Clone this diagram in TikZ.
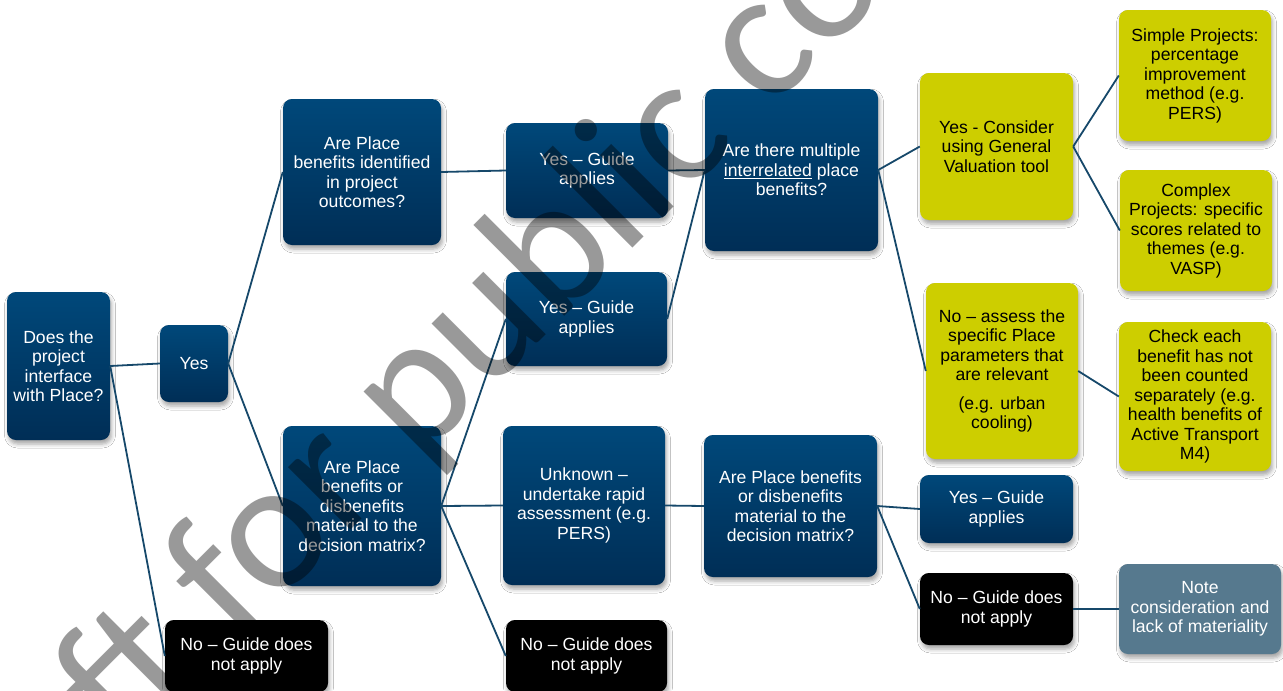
\documentclass[tikz,border=0pt]{standalone}
\usepackage{fontspec}
\setmainfont{Liberation Sans}
\newfontfamily\wmfont{Carlito}
\usetikzlibrary{shadows.blur}
\definecolor{dtop}{RGB}{0,72,122}
\definecolor{dbot}{RGB}{0,46,86}
\definecolor{yel}{RGB}{205,206,0}
\definecolor{gbl}{RGB}{86,121,142}
\definecolor{lnk}{RGB}{22,72,106}
\newcommand{\boxfont}{\fontsize{17.6}{19.5}\selectfont}
\begin{document}
\begin{tikzpicture}[x=1pt,y=-1pt,
  base/.style={rounded corners=9pt, align=center, inner sep=0pt, font=\boxfont,
    blur shadow={shadow xshift=1.5pt, shadow yshift=-4pt, shadow blur radius=4pt, shadow opacity=35}},
  qbox/.style={base, top color=dtop, bottom color=dbot, text=white},
  ybox/.style={base, fill=yel, text=black},
  kbox/.style={base, fill=black, text=white},
  gbox/.style={base, fill=gbl, text=white},
  link/.style={draw=lnk, line width=1.8pt}]
\useasboundingbox (0,0) rectangle (1283,691);
\fill[white] (0,0) rectangle (1283,691);

\node[qbox, minimum width=103pt, minimum height=148pt] (q1) at (58.5,366) {Does the\\project\\interface\\with Place?};
\node[qbox, minimum width=68pt, minimum height=77pt] (yes1) at (194,363.5) {Yes};
\node[qbox, minimum width=158pt, minimum height=146pt] (q2) at (362,172) {Are Place\\benefits identified\\in project\\outcomes?};
\node[qbox, minimum width=158pt, minimum height=160pt] (q3) at (362,506) {Are Place\\benefits or\\disbenefits\\material to the\\decision matrix?};
\node[kbox, minimum width=163pt, minimum height=72pt] (no1) at (246.5,656) {No – Guide does\\not apply};
\node[qbox, minimum width=162pt, minimum height=95pt] (yes2) at (587,170.5) {Yes – Guide\\applies};
\node[qbox, minimum width=161pt, minimum height=94pt] (yes3) at (586.5,319) {Yes – Guide\\applies};
\node[qbox, minimum width=162pt, minimum height=159pt] (unk) at (584,505.5) {Unknown –\\undertake rapid\\assessment (e.g.\\PERS)};
\node[kbox, minimum width=161pt, minimum height=72pt] (no2) at (586.5,656) {No – Guide does\\not apply};
\node[qbox, minimum width=173pt, minimum height=162pt] (q4) at (791.5,170) {Are there multiple\\\underline{interrelated} place\\benefits?};
\node[qbox, minimum width=173pt, minimum height=142pt] (q5) at (790.5,506) {Are Place benefits\\or disbenefits\\material to the\\decision matrix?};
\node[ybox, minimum width=153pt, minimum height=147pt] (ycons) at (996.5,146.5) {Yes - Consider\\using General\\Valuation tool};
\node[ybox, minimum width=152pt, minimum height=131pt] (simple) at (1195,75.5) {Simple Projects:\\percentage\\improvement\\method (e.g.\\PERS)};
\node[ybox, minimum width=152pt, minimum height=121pt] (complex) at (1196,230.5) {Complex\\Projects: specific\\scores related to\\themes (e.g.\\VASP)};
\node[ybox, minimum width=152pt, minimum height=176pt] (noass) at (1002,371) {No – assess the\\specific Place\\parameters that\\are relevant\\[9pt](e.g. urban\\cooling)};
\node[ybox, minimum width=152pt, minimum height=149pt] (check) at (1195,396.5) {Check each\\benefit has not\\been counted\\separately (e.g.\\health benefits of\\Active Transport\\M4)};
\node[qbox, minimum width=153pt, minimum height=68pt] (yes4) at (996.5,509) {Yes – Guide\\applies};
\node[kbox, minimum width=153pt, minimum height=72pt] (no3) at (996.5,609) {No – Guide does\\not apply};
\node[gbox, minimum width=162pt, minimum height=90pt] (note) at (1200,609) {Note\\consideration and\\lack of materiality};

\draw[link] (q1.east) -- (yes1.west);
\draw[link] (q1.east) -- (no1.west);
\draw[link] (yes1.east) -- (q2.west);
\draw[link] (yes1.east) -- (q3.west);
\draw[link] (q2.east) -- (yes2.west);
\draw[link] (q3.east) -- (yes3.west);
\draw[link] (q3.east) -- (unk.west);
\draw[link] (q3.east) -- (no2.west);
\draw[link] (yes2.east) -- (q4.west);
\draw[link] (yes3.east) -- (q4.west);
\draw[link] (unk.east) -- (q5.west);
\draw[link] (q4.east) -- (ycons.west);
\draw[link] (q4.east) -- (noass.west);
\draw[link] (ycons.east) -- (simple.west);
\draw[link] (ycons.east) -- (complex.west);
\draw[link] (noass.east) -- (check.west);
\draw[link] (q5.east) -- (yes4.west);
\draw[link] (q5.east) -- (no3.west);
\draw[link] (no3.east) -- (note.west);

\begin{scope}
\clip (0,0) rectangle (1283,691);
\node[anchor=base west, rotate=45, inner sep=0pt, text=black, opacity=0.4,
  font=\wmfont\fontsize{185}{185}\selectfont] (wm) at (-59,940) {Draft for public consultation};
\end{scope}
\end{tikzpicture}
\end{document}
